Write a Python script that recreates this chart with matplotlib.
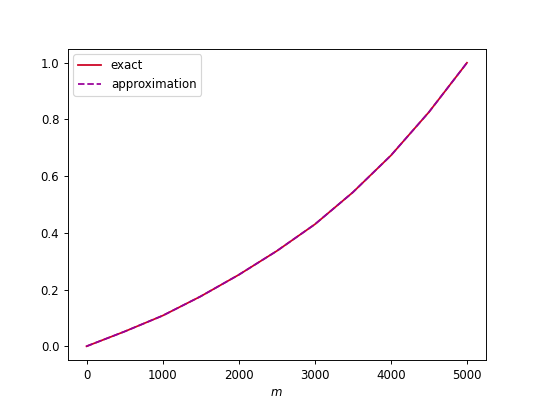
import matplotlib
matplotlib.use("Agg")
import matplotlib.pyplot as plt

m_vals = [0, 500, 1000, 1500, 2000, 2500, 3000, 3500, 4000, 4500, 5000]
exact = [0.0, 0.052, 0.108, 0.176, 0.252, 0.336, 0.430, 0.543, 0.673, 0.826, 1.0]
approx = [0.0, 0.052, 0.108, 0.176, 0.252, 0.336, 0.430, 0.543, 0.673, 0.826, 1.0]

fig, ax = plt.subplots(figsize=(6.4, 4.8), dpi=84.375)
ax.plot(m_vals, exact, color="#cc0022", label="exact")
ax.plot(m_vals, approx, color="#990099", linestyle="--", label="approximation")
ax.set_xlabel("$m$")
ax.legend(loc="upper left")
fig.savefig("out.png")
